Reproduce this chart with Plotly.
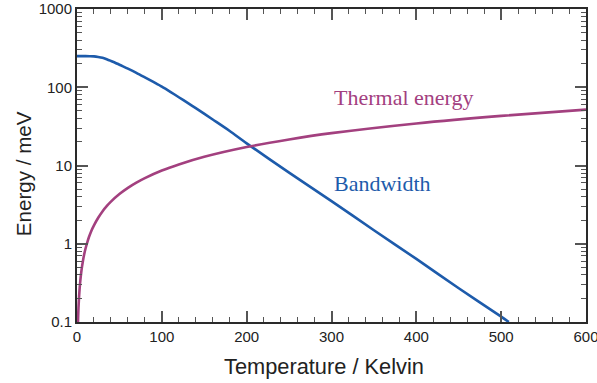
import plotly.graph_objects as go

# Temperature grid (K) and energies (meV)
bw_temp = [0, 10, 15, 20, 25, 30, 35, 40, 45, 50, 60, 70, 80, 90, 100, 110,
           120, 130, 140, 160, 180, 200, 250, 300, 350, 400, 450, 500, 509]
bandwidth = [250, 250, 249.5, 248, 244, 238, 228, 217, 206, 194, 173, 153,
             134, 117, 102, 87.5, 74.5, 63.5, 54, 38.7, 27.6, 19.2, 8.1, 3.5,
             1.49, 0.64, 0.27, 0.117, 0.1]

th_temp = [1.16, 1.3, 1.5, 1.75, 2, 2.5, 3, 3.5, 4, 5, 6, 7, 8.5, 10, 12, 14,
           17, 20, 25, 30, 35, 40, 50, 60, 70, 80, 100, 120, 150, 200, 250,
           300, 400, 500, 600]
thermal = [0.1, 0.112, 0.129, 0.151, 0.172, 0.215, 0.259, 0.302, 0.345,
           0.431, 0.517, 0.603, 0.733, 0.862, 1.03, 1.21, 1.47, 1.72, 2.15,
           2.59, 3.02, 3.45, 4.31, 5.17, 6.03, 6.89, 8.62, 10.3, 12.9, 17.2,
           21.5, 25.9, 34.5, 43.1, 51.7]

x_ticks = [0, 100, 200, 300, 400, 500, 600]
y_ticks = [0.1, 1, 10, 100, 1000]
y_labels = ["0.1", "1", "10", "100", "1000"]

BLUE = "#1d5bab"
PURPLE = "#a3407f"
AXIS = "#2a2a2a"
SANS = "Liberation Sans, Arial, sans-serif"
SERIF = "Liberation Serif, Times New Roman, serif"

fig = go.Figure()
fig.add_trace(go.Scatter(x=bw_temp, y=bandwidth, mode="lines",
                         line=dict(color=BLUE, width=2.6, shape="spline", smoothing=0.8),
                         showlegend=False))
fig.add_trace(go.Scatter(x=th_temp, y=thermal, mode="lines",
                         line=dict(color=PURPLE, width=2.6, shape="spline", smoothing=0.8),
                         showlegend=False))

axis_common = dict(showgrid=False, zeroline=False, automargin=False,
                   showline=True, linecolor=AXIS, linewidth=2, mirror="ticks",
                   ticks="inside", ticklen=11, tickwidth=1.5, tickcolor="#555555",
                   ticklabeloverflow="allow",
                   tickfont=dict(family=SANS, size=15, color="#222222"))

fig.update_layout(
    width=597, height=383,
    margin=dict(l=77, r=11, t=9, b=61, autoexpand=False),
    paper_bgcolor="white", plot_bgcolor="white",
    font=dict(family=SANS, color="#222222", size=15),
    xaxis=dict(range=[0, 600], tickvals=x_ticks,
               minor=dict(dtick=20, ticks="inside", ticklen=5, tickwidth=1.2,
                          tickcolor="#555555"),
               **axis_common),
    yaxis=dict(type="log", range=[-1, 3], tickvals=y_ticks, ticktext=y_labels,
               minor=dict(dtick="D1", ticks="inside", ticklen=5, tickwidth=1.2,
                          tickcolor="#555555"),
               **axis_common),
)

# Axis titles
fig.add_annotation(text="Temperature / Kelvin", xref="paper", yref="paper",
                   x=(323.8 - 77) / 509, y=-(366 - 322) / 313,
                   xanchor="center", yanchor="middle", showarrow=False,
                   font=dict(family=SANS, size=21.8, color="#222222"))
fig.add_annotation(text="Energy / meV", xref="paper", yref="paper",
                   x=(23 - 77) / 509, y=(322 - 174.2) / 313, textangle=-90,
                   xanchor="center", yanchor="middle", showarrow=False,
                   font=dict(family=SANS, size=20.6, color="#222222"))

# Curve labels
fig.add_annotation(text="Thermal energy", x=301, y=1.87, xref="x", yref="y",
                   xanchor="left", yanchor="middle", showarrow=False,
                   font=dict(family=SERIF, size=22, color=PURPLE))
fig.add_annotation(text="Bandwidth", x=301, y=0.77, xref="x", yref="y",
                   xanchor="left", yanchor="middle", showarrow=False,
                   font=dict(family=SERIF, size=22, color=BLUE))

fig.write_html("out.html")
